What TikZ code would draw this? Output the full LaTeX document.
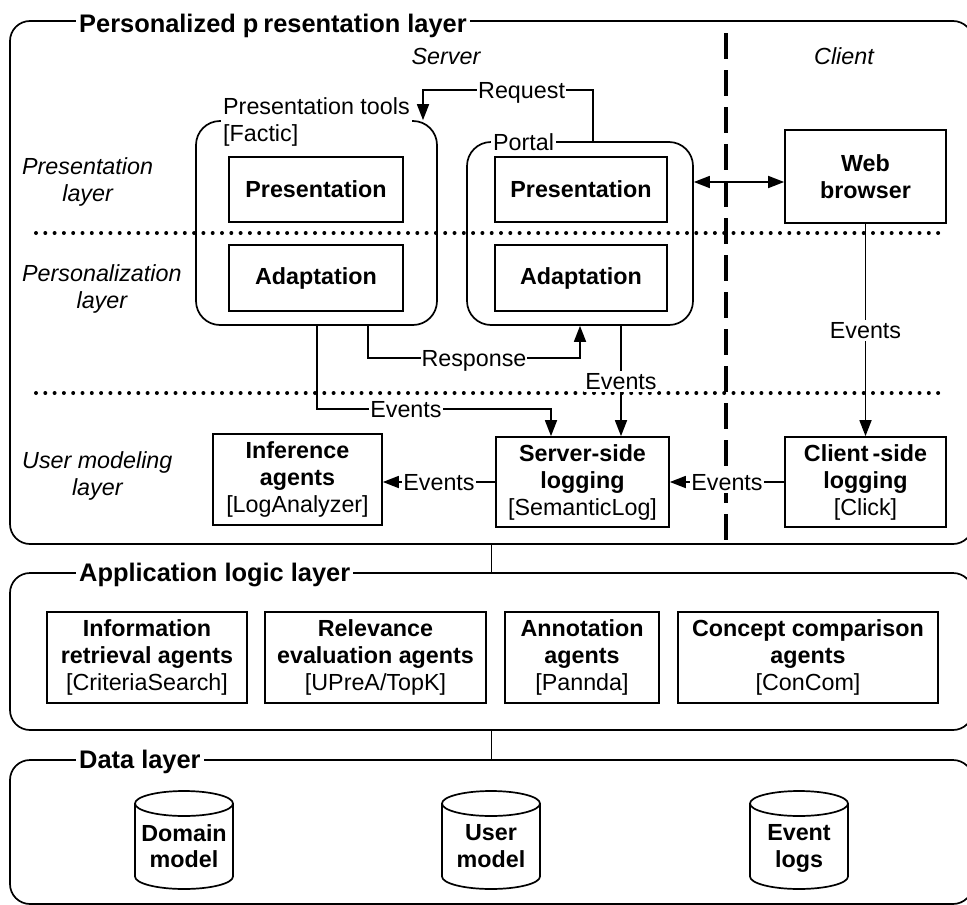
\documentclass[tikz,border=0pt]{standalone}
\usepackage{fontspec}
\setmainfont{Liberation Sans}
\usetikzlibrary{shapes.geometric,arrows.meta,calc}
\begin{document}
\begin{tikzpicture}[x=1pt,y=-1pt,
  every node/.style={font=\fontsize{23.3}{27}\selectfont},
  layer/.style={draw, line width=1.7pt, rounded corners=20pt, inner sep=0pt},
  cont/.style={draw, line width=1.7pt, rounded corners=24pt, inner sep=0pt},
  box/.style={draw, line width=1.7pt, align=center, inner sep=0pt, font=\fontsize{23.3}{27}\selectfont\bfseries},
  dbtext/.style={align=center, inner sep=0pt, font=\fontsize{23.3}{26.5}\selectfont\bfseries},
  plain/.style={line width=1.7pt},
  conn/.style={line width=1.7pt, -{Triangle[length=16pt,width=12pt]}},
  dconn/.style={line width=1.7pt, {Triangle[length=16pt,width=12pt]}-{Triangle[length=16pt,width=12pt]}},
  lbl/.style={fill=white, inner xsep=1pt, inner ysep=2pt, text height=17pt, text depth=0pt},
  ttl/.style={fill=white, inner xsep=3pt, inner ysep=2pt, font=\fontsize{25.4}{28}\selectfont\bfseries},
  clbl/.style={fill=white, inner xsep=2pt, inner ysep=0pt},
  side/.style={font=\fontsize{23.3}{27}\selectfont\itshape, align=center, inner sep=0pt, anchor=west},
  side1/.style={font=\fontsize{23.3}{27}\selectfont\itshape, inner sep=0pt, text height=17pt, text depth=0pt},
  dotline/.style={line width=4pt, line cap=round, dash pattern=on 0pt off 9.3pt},
  sepline/.style={line width=4pt, dash pattern=on 26pt off 11pt}
]
\useasboundingbox (0,0) rectangle (967,905);
% layers
\node[layer, minimum width=963pt, minimum height=523pt] (L1) at (491.5,282.5) {};
\node[layer, minimum width=963pt, minimum height=157pt] (L2) at (491.5,651.5) {};
\node[layer, minimum width=963pt, minimum height=144pt] (L3) at (491.5,832) {};
\draw[plain] (L1.south) -- (L2.north);
\draw[plain] (L2.south) -- (L3.north);
\node[ttl, anchor=base west] (T1) at (76,32) {Personalized p\kern5pt resentation layer};
\node[ttl, anchor=base west] (T2) at (76,581) {Application logic layer};
\node[ttl, anchor=base west] (T3) at (76,768) {Data layer};
% side labels
\node[side] (lp) at (22,182) {Presentation\\layer};
\node[side] (lz) at (22,289) {Personalization\\layer};
\node[side] (lu) at (22,476) {User modeling\\layer};
\node[side1] (srv) at (446,56) {Server};
\node[side1] (cli) at (844,56) {Client};
% separators
\draw[dotline] (36,233) -- (942,233);
\draw[dotline] (36,393) -- (942,393);
\draw[sepline] (726,33) -- (726,541);
% containers
\node[cont, minimum width=241pt, minimum height=204pt] (ptc) at (316.5,223) {};
\node[cont, minimum width=226pt, minimum height=183pt] (portal) at (580,233.5) {};
\node[clbl, anchor=west, align=left] (ptcl) at (221,121.5) {Presentation tools\\{[Factic]}};
\node[clbl, anchor=west, text height=17pt, text depth=0pt] (portall) at (491,141.5) {Portal};
% boxes
\node[box, minimum width=174pt, minimum height=65pt] (p1) at (316,189.5) {Presentation};
\node[box, minimum width=174pt, minimum height=66pt] (a1) at (316,278) {Adaptation};
\node[box, minimum width=172pt, minimum height=65pt] (p2) at (581,189.5) {Presentation};
\node[box, minimum width=172pt, minimum height=66pt] (a2) at (581,278) {Adaptation};
\node[box, minimum width=161pt, minimum height=93pt] (wb) at (865.5,176.5) {Web\\browser};
\node[box, minimum width=173pt, minimum height=90pt] (ssl) at (582.5,482) {Server-side\\logging\\{\mdseries[SemanticLog]}};
\node[box, minimum width=161pt, minimum height=90pt] (csl) at (865.5,482) {Client\kern4pt-side\\logging\\{\mdseries[Click]}};
\node[box, minimum width=169pt, minimum height=91pt] (inf) at (297.5,479.5) {Inference\\agents\\{\mdseries[LogAnalyzer]}};
% application boxes
\node[box, minimum width=200pt, minimum height=91pt] (ir) at (147,657.5) {Information\\retrieval agents\\{\mdseries[CriteriaSearch]}};
\node[box, minimum width=221pt, minimum height=91pt] (re) at (375.5,657.5) {Relevance\\evaluation agents\\{\mdseries[UPreA/TopK]}};
\node[box, minimum width=154pt, minimum height=91pt] (an) at (582,657.5) {Annotation\\agents\\{\mdseries[Pannda]}};
\node[box, minimum width=260pt, minimum height=91pt] (cc) at (808,657.5) {Concept comparison\\agents\\{\mdseries[ConCom]}};
% data (cylinders)
\foreach \n/\cx in {dm/184, um/491, el/799}{
  \coordinate (\n) at (\cx,840);
  \draw[plain] ($(\n)+(-49,-36.5)$) -- ($(\n)+(-49,36.5)$)
     arc[start angle=180, end angle=360, x radius=49pt, y radius=12.5pt]
     -- ($(\n)+(49,-36.5)$)
     arc[start angle=0, end angle=180, x radius=49pt, y radius=12.5pt] -- cycle;
  \draw[plain] ($(\n)+(-49,-36.5)$) arc[start angle=180, end angle=360, x radius=49pt, y radius=12.5pt];
}
\node[dbtext] (dmt) at ($(dm)+(0,6)$) {Domain\\model};
\node[dbtext] (umt) at ($(um)+(0,6)$) {User\\model};
\node[dbtext] (elt) at ($(el)+(0,8.5)$) {Event\\logs};
% connectors
\coordinate (reqend) at ([xshift=106.5pt]ptc.north);
\coordinate (reqstart) at ([xshift=13pt]portal.north);
\draw[conn] (reqstart) -- ++(0,-51) -| (reqend) node[lbl,pos=0.21] (lreq) {Request};
\coordinate (rsstart) at ([xshift=51.5pt]ptc.south);
\draw[conn] (rsstart) -- ++(0,32) -| (portal.south) node[lbl,pos=0.25] (lresp) {Response};
\coordinate (e1start) at ([xshift=0.5pt]ptc.south);
\coordinate (e1end) at ([xshift=-31.5pt]ssl.north);
\draw[conn] (e1start) -- ++(0,83) -| (e1end) node[lbl,pos=0.19] (lev1) {Events};
\coordinate (e2) at ([xshift=41pt]portal.south);
\draw[conn] (e2) -- (e2 |- ssl.north) node[lbl,midway] (lev2) {Events};
\draw[conn] (wb.south) -- (csl.north) node[lbl,midway] (lev3) {Events};
\draw[conn] (csl.west) -- (ssl.east) node[lbl,midway] (lev4) {Events};
\draw[conn] (ssl.west) -- (ssl.west -| inf.east) node[lbl,midway] (lev5) {Events};
\coordinate (da) at ([yshift=51.5pt]portal.east);
\draw[dconn] (da) -- (da -| wb.west);
\end{tikzpicture}
\end{document}
